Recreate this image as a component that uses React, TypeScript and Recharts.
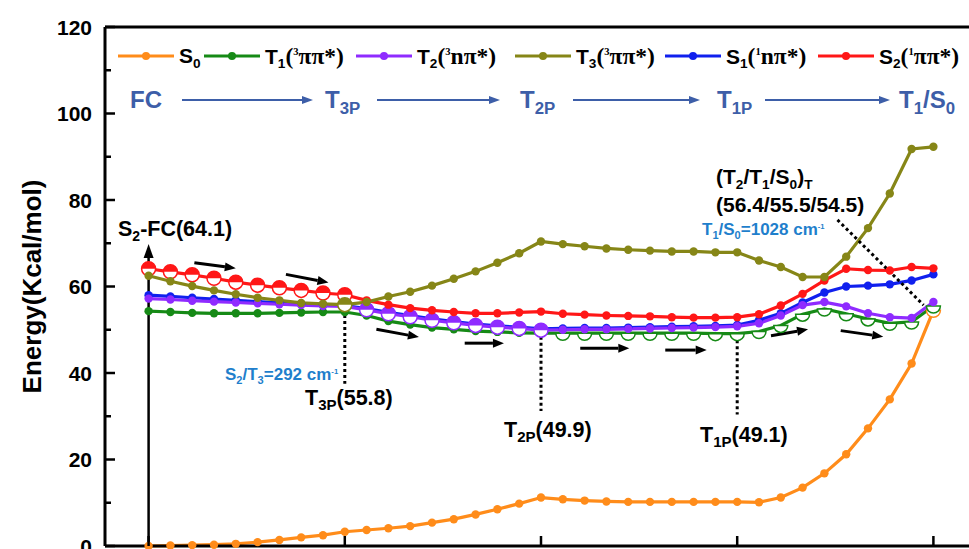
import React from 'react';
import { LineChart, Line, XAxis, YAxis, ReferenceLine, Legend } from 'recharts';

const SANS = '"Liberation Sans", Arial, sans-serif';
const SERIF = '"Liberation Serif", "Times New Roman", serif';

// reaction path steps: FC = 0, T3P = 9, T2P = 18, T1P = 27, T1/S0 = 36
const steps = [
  0, 1, 2, 3, 4, 5, 6, 7, 8, 9, 10, 11, 12, 13, 14, 15, 16, 17, 18,
  19, 20, 21, 22, 23, 24, 25, 26, 27, 28, 29, 30, 31, 32, 33, 34, 35, 36,
];

const s0 = [
  0.0, 0.1, 0.2, 0.3, 0.5, 0.9, 1.4, 2.0, 2.5, 3.3, 3.7, 4.1, 4.6, 5.4, 6.2, 7.3, 8.5, 9.8, 11.2,
  10.8, 10.5, 10.3, 10.2, 10.2, 10.2, 10.2, 10.2, 10.2, 10.1, 11.2, 13.5, 16.8, 21.2, 27.2, 33.9, 42.2, 54.5,
];
const t1 = [
  54.3, 54.1, 53.9, 53.8, 53.8, 53.8, 53.9, 54.0, 54.1, 54.1, 53.3, 52.0, 51.2, 50.5, 50.1, 49.7, 49.5, 49.3, 49.2,
  49.2, 49.2, 49.2, 49.2, 49.2, 49.2, 49.2, 49.1, 49.1, 49.6, 51.0, 53.6, 54.8, 53.7, 52.5, 51.5, 51.8, 55.5,
];
const t2 = [
  57.2, 57.0, 56.7, 56.5, 56.3, 56.1, 55.9, 55.7, 55.5, 55.4, 54.6, 53.7, 53.0, 52.2, 51.6, 51.0, 50.6, 50.3, 49.9,
  50.0, 50.1, 50.1, 50.2, 50.3, 50.4, 50.5, 50.6, 50.8, 51.5, 53.3, 55.7, 56.4, 55.4, 53.8, 52.9, 52.7, 56.4,
];
const t3 = [
  62.5, 61.2, 60.1, 59.1, 58.2, 57.4, 56.8, 56.2, 56.0, 55.8, 56.4, 57.7, 58.8, 60.2, 61.8, 63.5, 65.5, 67.7, 70.4,
  69.8, 69.3, 68.8, 68.5, 68.3, 68.1, 68.1, 67.9, 67.9, 66.0, 64.5, 62.2, 62.2, 66.9, 73.5, 81.5, 91.8, 92.3,
];
const s1 = [
  58.0, 57.7, 57.4, 57.1, 56.8, 56.5, 56.2, 56.0, 55.8, 55.6, 54.9, 54.0, 53.3, 52.5, 51.9, 51.3, 50.9, 50.6, 50.2,
  50.3, 50.4, 50.4, 50.5, 50.6, 50.7, 50.8, 50.9, 51.1, 52.2, 53.8, 56.3, 58.6, 60.0, 60.2, 60.5, 61.4, 62.8,
];
const s2 = [
  64.1, 63.4, 62.7, 61.9, 61.0, 60.3, 59.7, 59.1, 58.5, 58.1, 56.8, 55.8, 55.0, 54.5, 54.1, 53.8, 53.8, 54.0, 54.2,
  53.7, 53.5, 53.3, 53.2, 53.1, 52.9, 52.8, 52.8, 52.9, 53.6, 55.6, 58.3, 61.4, 64.1, 63.8, 63.7, 64.5, 64.2,
];

// which state is followed along each leg (drawn as big half circles)
const s2Followed = [0, 1, 2, 3, 4, 5, 6, 7, 8, 9];
const t3Followed = [9];
const t2Followed = [10, 11, 12, 13, 14, 15, 16, 17, 18];
const t1Followed = [19, 20, 21, 22, 23, 24, 25, 26, 27, 28, 29, 30, 31, 32, 33, 34, 35, 36];

const xTicks = [0, 9, 18, 27, 36];
const yTicks = [0, 10, 20, 30, 40, 50, 60, 70, 80, 90, 100, 110, 120];

const rows = steps.map((step, i) => ({
  step, s0: s0[i], t1: t1[i], t2: t2[i], t3: t3[i], s1: s1[i], s2: s2[i],
}));

const C = {
  s0: '#ff8c1a',
  t1: '#168a16',
  t2: '#8f2bff',
  t3: '#868617',
  s1: '#1020ee',
  s2: '#ff1717',
};
const NOTE_BLUE = '#1f7fcc';
const FLOW_BLUE = '#3d5ea8';

// annotation arrows in (step, energy)
const pathArrows = [
  [[2.1, 65.5], [4.0, 64.2]],
  [[6.3, 62.8], [8.25, 60.9]],
  [[10.45, 50.1], [12.4, 48.3]],
  [[14.5, 46.9], [16.3, 46.9]],
  [[19.8, 45.7], [22.05, 45.7]],
  [[23.7, 45.3], [25.6, 45.3]],
  [[28.55, 48.6], [30.25, 50.1]],
  [[31.75, 49.8], [33.7, 48.4]],
];
const dropLines = [
  [[9, 53.4], [9, 37.5]],
  [[18, 48.4], [18, 31.2]],
  [[27, 47.6], [27, 30.4]],
  [[31.6, 75.4], [35.55, 55.7]],
];

const Sub = ({ children, s = 0.65 }: any) => (
  <span style={{ fontSize: `${s}em`, position: 'relative', top: '0.35em' }}>{children}</span>
);
const Sup = ({ children }: any) => (
  <span style={{ fontSize: '0.45em', position: 'relative', top: '-0.85em' }}>{children}</span>
);
const Orb = ({ children }: any) => (
  <span style={{ fontFamily: SERIF, fontSize: '1.12em' }}>{children}</span>
);

const legendItems = [
  { key: 's0', x: 118, label: <>S<Sub>0</Sub></> },
  { key: 't1', x: 204, label: <>T<Sub>1</Sub><Orb>(<Sup>3</Sup>ππ*)</Orb></> },
  { key: 't2', x: 356, label: <>T<Sub>2</Sub><Orb>(<Sup>3</Sup>nπ*)</Orb></> },
  { key: 't3', x: 515, label: <>T<Sub>3</Sub><Orb>(<Sup>3</Sup>ππ*)</Orb></> },
  { key: 's1', x: 665, label: <>S<Sub>1</Sub><Orb>(<Sup>1</Sup>nπ*)</Orb></> },
  { key: 's2', x: 818, label: <>S<Sub>2</Sub><Orb>(<Sup>1</Sup>ππ*)</Orb></> },
];

const LegendBox = () => (
  <div style={{ position: 'relative', height: 30, fontFamily: SANS, fontWeight: 'bold', fontSize: 21, color: '#000' }}>
    {legendItems.map((it) => (
      <div key={it.key} style={{ position: 'absolute', left: it.x, top: 0, display: 'flex', alignItems: 'center', whiteSpace: 'nowrap', height: 30 }}>
        <svg width={56} height={12}>
          <line x1={0} y1={6} x2={56} y2={6} stroke={(C as any)[it.key]} strokeWidth={3} />
          <circle cx={28} cy={6} r={4} fill={(C as any)[it.key]} />
        </svg>
        <span style={{ marginLeft: 5 }}>{it.label}</span>
      </div>
    ))}
  </div>
);

function makeDot(color: string, followed: number[], hollow: boolean) {
  return (p: any) => {
    const { cx, cy, index } = p;
    if (cx == null || cy == null) return <g key={`d${index}`} />;
    const r = 7;
    if (followed.includes(index)) {
      if (hollow) {
        return (
          <path key={`d${index}`} d={`M${cx - r},${cy} A${r},${r} 0 0 0 ${cx + r},${cy} Z`}
            fill="#fff" stroke={color} strokeWidth={1.5} />
        );
      }
      return (
        <g key={`d${index}`}>
          <circle cx={cx} cy={cy} r={r} fill="#fff" stroke={color} strokeWidth={1.5} />
          <path d={`M${cx - r},${cy} A${r},${r} 0 0 1 ${cx + r},${cy} Z`} fill={color} />
        </g>
      );
    }
    return <circle key={`d${index}`} cx={cx} cy={cy} r={4.2} fill={color} />;
  };
}

const arrowShape = (p: any) => {
  const { x1, y1, x2, y2 } = p;
  const a = Math.atan2(y2 - y1, x2 - x1);
  const head = 11;
  const half = 4.5;
  const bx = x2 - head * Math.cos(a);
  const by = y2 - head * Math.sin(a);
  const nx = -Math.sin(a) * half;
  const ny = Math.cos(a) * half;
  return (
    <g>
      <line x1={x1} y1={y1} x2={bx} y2={by} stroke="#000" strokeWidth={3} />
      <polygon points={`${x2},${y2} ${bx + nx},${by + ny} ${bx - nx},${by - ny}`} fill="#000" />
    </g>
  );
};

const upArrowShape = (p: any) => {
  const { x1, y1, x2, y2 } = p;
  const top = Math.min(y1, y2);
  const bottom = Math.max(y1, y2);
  return (
    <g>
      <line x1={x1} y1={bottom} x2={x1} y2={top + 12} stroke="#000" strokeWidth={2.5} />
      <polygon points={`${x1},${top} ${x1 - 5},${top + 14} ${x1 + 5},${top + 14}`} fill="#000" />
    </g>
  );
};

const YTick = (p: any) => {
  const { x, y, payload } = p;
  const major = payload.value % 20 === 0;
  const ax = x + 13;
  return (
    <g>
      <line x1={ax} y1={y} x2={ax + (major ? 10 : 6)} y2={y} stroke="#000" strokeWidth={2.5} />
      {major && (
        <text x={x} y={y} dy="0.36em" textAnchor="end" fontFamily={SANS} fontWeight="bold" fontSize={21} fill="#000">
          {payload.value}
        </text>
      )}
    </g>
  );
};

const XTick = (p: any) => {
  const { x, y } = p;
  return <line x1={x} y1={y} x2={x} y2={y - 10} stroke="#000" strokeWidth={2.5} />;
};

const YTitle = (p: any) => {
  const vb = p.viewBox || { y: 27, height: 519 };
  const cy = vb.y + vb.height / 2;
  return (
    <text x={32} y={cy} transform={`rotate(-90 32 ${cy})`} textAnchor="middle" dominantBaseline="central"
      fontFamily={SANS} fontWeight="bold" fontSize={26} fill="#000">
      Energy(Kcal/mol)
    </text>
  );
};

const Note = ({ x, y, size = 21.5, color = '#000', children }: any) => (
  <div style={{
    position: 'absolute', left: x, top: y, transform: 'translateY(-50%)', fontFamily: SANS,
    fontWeight: 'bold', fontSize: size, color, whiteSpace: 'nowrap', lineHeight: 1,
  }}>
    {children}
  </div>
);

const flowLabels = [
  { x: 130, label: <>FC</> },
  { x: 325, label: <>T<Sub s={0.7}>3P</Sub></> },
  { x: 520, label: <>T<Sub s={0.7}>2P</Sub></> },
  { x: 717, label: <>T<Sub s={0.7}>1P</Sub></> },
  { x: 899, label: <>T<Sub s={0.7}>1</Sub>/S<Sub s={0.7}>0</Sub></> },
];
const flowArrows = [[182, 313], [377, 500], [573, 700], [765, 890]];

export default function App() {
  return (
    <div style={{ position: 'fixed', left: 0, top: 0, width: 969, height: 549, overflow: 'hidden', background: '#fff' }}>
      <LineChart width={990} height={580} data={rows} margin={{ top: 27, right: 13, bottom: 4, left: 0 }}>
        <XAxis type="number" dataKey="step" domain={[-2, 38]} ticks={xTicks} interval={0} height={30}
          axisLine={{ stroke: '#000', strokeWidth: 3 }} tickLine={false} tickSize={0} tickMargin={0} tick={<XTick />} />
        <YAxis type="number" domain={[0, 120]} ticks={yTicks} interval={0} width={105}
          axisLine={{ stroke: '#000', strokeWidth: 3 }} tickLine={false} tickSize={0} tickMargin={13} tick={<YTick />}
          label={<YTitle />} />
        <ReferenceLine y={120} stroke="#000" strokeWidth={3} />
        <Legend content={<LegendBox />} layout="horizontal" verticalAlign="middle" align="center"
          wrapperStyle={{ top: 41, left: 0, width: 969 }} />

        <Line dataKey="s0" stroke={C.s0} strokeWidth={3.2} isAnimationActive={false} activeDot={false}
          dot={makeDot(C.s0, [36], true)} />
        <Line dataKey="s1" stroke={C.s1} strokeWidth={3.2} isAnimationActive={false} activeDot={false}
          dot={makeDot(C.s1, [], false)} />
        <Line dataKey="t1" stroke={C.t1} strokeWidth={3.2} isAnimationActive={false} activeDot={false}
          dot={makeDot(C.t1, t1Followed, true)} />
        <Line dataKey="t2" stroke={C.t2} strokeWidth={3.2} isAnimationActive={false} activeDot={false}
          dot={makeDot(C.t2, t2Followed, false)} />
        <Line dataKey="s2" stroke={C.s2} strokeWidth={3.2} isAnimationActive={false} activeDot={false}
          dot={makeDot(C.s2, s2Followed, false)} />
        <Line dataKey="t3" stroke={C.t3} strokeWidth={3.2} isAnimationActive={false} activeDot={false}
          dot={makeDot(C.t3, t3Followed, false)} />

        {dropLines.map((seg, i) => (
          <ReferenceLine key={`dl${i}`} segment={[{ x: seg[0][0], y: seg[0][1] }, { x: seg[1][0], y: seg[1][1] }]}
            stroke="#000" strokeWidth={3} strokeDasharray="3 3" />
        ))}
        {pathArrows.map((seg, i) => (
          <ReferenceLine key={`pa${i}`} segment={[{ x: seg[0][0], y: seg[0][1] }, { x: seg[1][0], y: seg[1][1] }]}
            stroke="#000" shape={arrowShape} />
        ))}
        <ReferenceLine segment={[{ x: 0, y: 0 }, { x: 0, y: 69.8 }]} stroke="#000" shape={upArrowShape} />
      </LineChart>

      {flowLabels.map((f, i) => (
        <Note key={`fl${i}`} x={f.x} y={100} size={24} color={FLOW_BLUE}>{f.label}</Note>
      ))}
      <svg width={969} height={120} style={{ position: 'absolute', left: 0, top: 0, pointerEvents: 'none' }}>
        {flowArrows.map(([a, b], i) => (
          <g key={`fa${i}`}>
            <line x1={a} y1={100} x2={b - 9} y2={100} stroke={FLOW_BLUE} strokeWidth={2} />
            <polygon points={`${b},100 ${b - 11},96 ${b - 11},104`} fill={FLOW_BLUE} />
          </g>
        ))}
      </svg>

      <Note x={118} y={230}>S<Sub>2</Sub>-FC(64.1)</Note>
      <Note x={225} y={374} size={17} color={NOTE_BLUE}>S<Sub>2</Sub>/T<Sub>3</Sub>=292 cm<Sup>-1</Sup></Note>
      <Note x={305} y={399}>T<Sub s={0.7}>3P</Sub>(55.8)</Note>
      <Note x={504} y={431}>T<Sub s={0.7}>2P</Sub>(49.9)</Note>
      <Note x={700} y={436}>T<Sub s={0.7}>1P</Sub>(49.1)</Note>
      <Note x={716} y={176} size={21}>(T<Sub>2</Sub>/T<Sub>1</Sub>/S<Sub>0</Sub>)<Sub>T</Sub></Note>
      <Note x={716} y={204} size={21}>(56.4/55.5/54.5)</Note>
      <Note x={702} y={229} size={17} color={NOTE_BLUE}>T<Sub>1</Sub>/S<Sub>0</Sub>=1028 cm<Sup>-1</Sup></Note>
    </div>
  );
}
